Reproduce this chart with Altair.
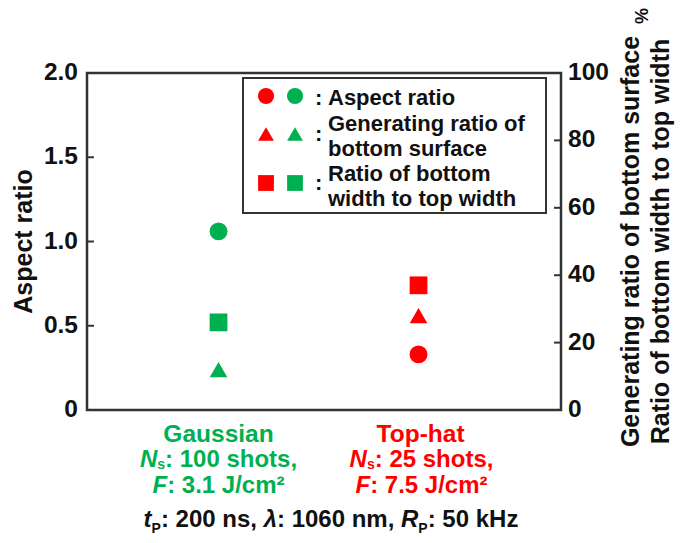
import altair as alt
import pandas as pd

# ---------------- data ----------------
categories = ["Gaussian", "Top-hat"]
cat_colors = ["#00b050", "#ff0000"]
aspect_ratio = [1.06, 0.33]            # left axis
bottom_surface_ratio = [12, 28]        # % (right axis)
bottom_to_top_width = [26, 37]         # % (right axis)
shots = [100, 25]
fluence = [3.1, 7.5]
left_tick_values = [0, 0.5, 1.0, 1.5, 2.0]
left_tick_labels = ["0", "0.5", "1.0", "1.5", "2.0"]
right_tick_values = [0, 20, 40, 60, 80, 100]
right_tick_labels = ["0", "20", "40", "60", "80", "100"]
left_title = "Aspect ratio"
right_titles = ["Generating ratio of bottom surface", "Ratio of bottom width to top width"]
legend_lines = ["Aspect ratio", "Generating ratio of", "bottom surface",
                "Ratio of bottom", "width to top width"]

FONT = "Liberation Sans"
BLACK = "#111111"
FRAME = "#333333"
W_PLOT, H_PLOT = 474, 337

# Arial/Liberation Sans Bold advance widths (1/1000 em) for layout of mixed-style text
_W = {' ': 278, ',': 278, '-': 333, '.': 278, '/': 278, ':': 333, '²': 333, 'λ': 556, '%': 889}
for c in "0123456789":
    _W[c] = 556
for c, w in zip("ABCDEFGHIJKLMNOPQRSTUVWXYZ",
                [722, 722, 722, 722, 667, 611, 778, 722, 278, 556, 722, 611, 833, 722, 778, 667,
                 778, 722, 667, 611, 722, 667, 944, 667, 667, 611]):
    _W[c] = w
for c, w in zip("abcdefghijklmnopqrstuvwxyz",
                [556, 611, 556, 611, 556, 333, 611, 611, 278, 278, 556, 278, 889, 611, 611, 611,
                 611, 389, 556, 333, 611, 556, 778, 556, 556, 500]):
    _W[c] = w


def tw(s, size):
    return sum(_W.get(c, 556) for c in s) / 1000.0 * size


# ---------------- data tables ----------------
df = pd.DataFrame({
    "cat": categories,
    "color": cat_colors,
    "aspect": aspect_ratio,
    "surface": bottom_surface_ratio,
    "width": bottom_to_top_width,
})

x_enc = alt.X("cat:N", axis=None,
              scale=alt.Scale(type="point", domain=categories, padding=0.685, align=0.48))
col_enc = alt.Color("color:N", scale=None)

left_scale = alt.Scale(domain=[0, 2], nice=False, zero=True)
right_scale = alt.Scale(domain=[0, 100], nice=False, zero=True)

circles = alt.Chart(df).mark_point(shape="circle", filled=True, size=320, opacity=1).encode(
    x=x_enc,
    y=alt.Y("aspect:Q", scale=left_scale, axis=None),
    color=col_enc,
)

ldf = pd.DataFrame({"v": left_tick_values, "lab": left_tick_labels})
lticks = alt.Chart(ldf[(ldf.v > 0) & (ldf.v < 2)]).mark_rule(
    color=FRAME, strokeWidth=2).encode(
    y=alt.Y("v:Q", scale=left_scale, axis=None),
    x=alt.value(0), x2=alt.value(7),
)
llabels = alt.Chart(ldf).mark_text(
    align="right", baseline="middle", font=FONT, fontSize=24.5, fontWeight="bold",
    color=BLACK).encode(
    y=alt.Y("v:Q", scale=left_scale, axis=None),
    x=alt.value(-9), text="lab:N",
)
left_layer = alt.layer(circles, lticks, llabels)

triangles = alt.Chart(df).mark_point(shape="triangle-up", filled=True, size=310, opacity=1).encode(
    x=x_enc,
    y=alt.Y("surface:Q", scale=right_scale, axis=None),
    color=col_enc,
)
squares = alt.Chart(df).mark_point(shape="square", filled=True, size=315, opacity=1).encode(
    x=x_enc,
    y=alt.Y("width:Q", scale=right_scale, axis=None),
    color=col_enc,
)
rdf = pd.DataFrame({"v": right_tick_values, "lab": right_tick_labels})
rticks = alt.Chart(rdf[(rdf.v > 0) & (rdf.v < 100)]).mark_rule(
    color=FRAME, strokeWidth=2).encode(
    y=alt.Y("v:Q", scale=right_scale, axis=None),
    x=alt.value(W_PLOT - 7), x2=alt.value(W_PLOT),
)
rlabels = alt.Chart(rdf).mark_text(
    align="left", baseline="middle", font=FONT, fontSize=24.5, fontWeight="bold",
    color=BLACK).encode(
    y=alt.Y("v:Q", scale=right_scale, axis=None),
    x=alt.value(W_PLOT + 7), text="lab:N",
)
right_layer = alt.layer(triangles, squares, rticks, rlabels)

# ---------------- axis titles ----------------
title_df = pd.DataFrame({
    "text": [left_title] + right_titles + ["%"],
    "x": [-63, 544, 574, 556],
    "y": [168.5, 168.5, 168.5, -57],
    "size": [25, 25, 25, 18],
})
titles = alt.Chart(title_df).mark_text(
    angle=270, align="center", baseline="middle", font=FONT, fontWeight="bold",
    color=BLACK).encode(
    x=alt.X("x:Q", scale=None, axis=None),
    y=alt.Y("y:Q", scale=None, axis=None),
    size=alt.Size("size:Q", scale=None),
    text="text:N",
)

# ---------------- category labels below the plot ----------------
line_y = [369, 394, 420]
shifts = [0, 3]
cat_rows = []
for i, cat in enumerate(categories):
    lines = [
        [(cat, False, 24.5, 0)],
        [("N", True, 24, 0), ("s", False, 14, 2), (f": {shots[i]} shots,", False, 24, 0)],
        [("F", True, 24, 0), (f": {fluence[i]} J/cm²", False, 24, 0)],
    ]
    for li, line in enumerate(lines):
        total = sum(tw(t, s) for t, it, s, dy in line)
        x0 = -total / 2 + shifts[i]
        for t, it, s, dy in line:
            cat_rows.append(dict(cat=cat, dx=x0, y=line_y[li] + dy, text=t, size=s,
                                 color=cat_colors[i], italic=it))
            x0 += tw(t, s)
cat_df = pd.DataFrame(cat_rows)


def cat_text_layer(data, italic):
    return alt.Chart(data).mark_text(
        align="left", baseline="alphabetic", font=FONT, fontWeight="bold",
        fontStyle="italic" if italic else "normal").encode(
        x=x_enc,
        xOffset=alt.XOffset("dx:Q", scale=None),
        y=alt.Y("y:Q", scale=None, axis=None),
        size=alt.Size("size:Q", scale=None),
        color=alt.Color("color:N", scale=None),
        text="text:N",
    )


cat_norm = cat_text_layer(cat_df[~cat_df["italic"]], False)
cat_ital = cat_text_layer(cat_df[cat_df["italic"]], True)

# ---------------- free text (conditions line, legend text) ----------------
free_rows = []
cond = [("t", True, 24, 0), ("P", False, 14, 6), (": 200 ns, ", False, 24, 0),
        ("λ", True, 24, 0), (": 1060 nm, ", False, 24, 0),
        ("R", True, 24, 0), ("P", False, 14, 6), (": 50 kHz", False, 24, 0)]
total = sum(tw(t, s) for t, it, s, dy in cond)
x0 = 244 - total / 2
for t, it, s, dy in cond:
    free_rows.append(dict(x=x0, y=454 + dy, text=t, size=s, italic=it))
    x0 += tw(t, s)

legend_y = [32, 58, 83, 108, 133]
for t, yy in zip(legend_lines, legend_y):
    free_rows.append(dict(x=241, y=yy, text=t, size=22, italic=False))
for yy in [32, 68, 117]:
    free_rows.append(dict(x=228, y=yy, text=":", size=22, italic=False))
free_df = pd.DataFrame(free_rows)


def free_text_layer(data, italic):
    return alt.Chart(data).mark_text(
        align="left", baseline="alphabetic", font=FONT, fontWeight="bold", color=BLACK,
        fontStyle="italic" if italic else "normal").encode(
        x=alt.X("x:Q", scale=None, axis=None),
        y=alt.Y("y:Q", scale=None, axis=None),
        size=alt.Size("size:Q", scale=None),
        text="text:N",
    )


free_norm = free_text_layer(free_df[~free_df["italic"]], False)
free_ital = free_text_layer(free_df[free_df["italic"]], True)

# ---------------- custom legend ----------------
legend_box = alt.Chart(pd.DataFrame({"k": [0]})).mark_rect(
    fill="white", stroke=FRAME, strokeWidth=2).encode(
    x=alt.value(156), x2=alt.value(459), y=alt.value(5), y2=alt.value(140))

sym_rows = []
for shape, yy, sz in [("circle", 23, 260), ("triangle-up", 61, 250), ("square", 110, 250)]:
    for xx, c in zip([179, 208], ["#ff0000", "#00b050"]):
        sym_rows.append(dict(shape=shape, x=xx, y=yy, color=c, size=sz))
legend_sym = alt.Chart(pd.DataFrame(sym_rows)).mark_point(filled=True, opacity=1).encode(
    x=alt.X("x:Q", scale=None, axis=None),
    y=alt.Y("y:Q", scale=None, axis=None),
    shape=alt.Shape("shape:N", scale=None),
    color=alt.Color("color:N", scale=None),
    size=alt.Size("size:Q", scale=None),
)

chart = alt.layer(
    legend_box, left_layer, right_layer, legend_sym,
    cat_norm, cat_ital, free_norm, free_ital, titles,
).resolve_scale(y="independent").properties(
    width=W_PLOT, height=H_PLOT,
    autosize=alt.AutoSizeParams(type="none"),
    padding={"left": 87, "top": 73, "right": 122, "bottom": 133},
    background="white",
).configure_view(stroke=FRAME, strokeWidth=2.5)

chart.save("out.html", embed_options={"renderer": "svg", "actions": False})
